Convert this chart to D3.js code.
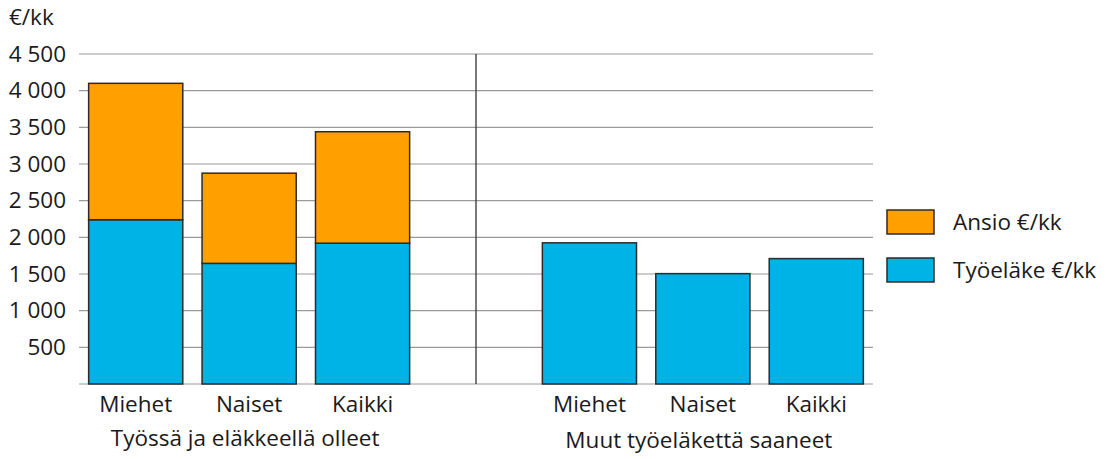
<!DOCTYPE html>
<html>
<head>
<meta charset="utf-8">
<script src="https://cdn.jsdelivr.net/npm/d3@7"></script>
<style>
	body { margin: 0; background: #fff; }
	text { font-family: "Open Sans", "Noto Sans", sans-serif; fill: #1a1a1a; }
</style>
</head>
<body>
<div class="container"></div>
<script>
// data
var slots = ['t-Miehet', 't-Naiset', 't-Kaikki', 'gap', 'm-Miehet', 'm-Naiset', 'm-Kaikki'];
var categories = ['Miehet', 'Naiset', 'Kaikki', '', 'Miehet', 'Naiset', 'Kaikki'];
var tyoelake = [2240, 1645, 1920, null, 1925, 1505, 1710];
var ansio = [1860, 1230, 1520, null, 0, 0, 0];
var groups = ['Työssä ja eläkkeellä olleet', 'Muut työeläkettä saaneet'];
var yTicks = [500, 1000, 1500, 2000, 2500, 3000, 3500, 4000, 4500];
var seriesNames = ['Ansio €/kk', 'Työeläke €/kk'];
var seriesColors = ['#ff9f00', '#00b3e6'];

var width = 1110, height = 459;
var margin = { top: 54, left: 79, right: 237, bottom: 75 };
var fontSize = '22.5px';

var svg = d3.select('.container').append('svg')
	.attr('width', width)
	.attr('height', height);

var xScale = d3.scaleBand()
	.domain(slots)
	.range([margin.left, width - margin.right])
	.paddingInner(0.17)
	.paddingOuter(0.085);

var yScale = d3.scaleLinear()
	.domain([0, 4500])
	.range([height - margin.bottom, margin.top]);

// grid lines
svg.append('g')
	.selectAll('line')
	.data([0].concat(yTicks))
	.enter().append('line')
	.attr('x1', margin.left)
	.attr('x2', width - margin.right)
	.attr('y1', d => yScale(d))
	.attr('y2', d => yScale(d))
	.attr('stroke', '#9a9a9a')
	.attr('stroke-width', 1.2);

// y axis labels
var yAxis = d3.axisLeft(yScale)
	.tickValues(yTicks)
	.tickSize(0)
	.tickPadding(13)
	.tickFormat(d => d3.format(',')(d).replace(',', ' '));

svg.append('g')
	.attr('transform', 'translate(' + margin.left + ',0)')
	.call(yAxis)
	.call(g => g.select('.domain').remove())
	.selectAll('text')
	.style('font-size', fontSize);

svg.append('text')
	.attr('x', 9)
	.attr('y', 25)
	.style('font-size', fontSize)
	.text('€/kk');

// divider
var gapX = xScale('gap') + xScale.bandwidth() / 2;
svg.append('line')
	.attr('x1', gapX).attr('x2', gapX)
	.attr('y1', yScale(4500)).attr('y2', yScale(0))
	.attr('stroke', '#333')
	.attr('stroke-width', 1.3);

// bars
var rows = slots.map((s, i) => ({ slot: s, t: tyoelake[i], a: ansio[i] })).filter(d => d.t !== null);

var bars = svg.append('g');
bars.selectAll('rect.tyo')
	.data(rows)
	.enter().append('rect')
	.attr('class', 'tyo')
	.attr('x', d => xScale(d.slot))
	.attr('width', xScale.bandwidth())
	.attr('y', d => yScale(d.t))
	.attr('height', d => yScale(0) - yScale(d.t))
	.attr('fill', seriesColors[1])
	.attr('stroke', '#2b2b2b')
	.attr('stroke-width', 1.5);

bars.selectAll('rect.ansio')
	.data(rows.filter(d => d.a > 0))
	.enter().append('rect')
	.attr('class', 'ansio')
	.attr('x', d => xScale(d.slot))
	.attr('width', xScale.bandwidth())
	.attr('y', d => yScale(d.t + d.a))
	.attr('height', d => yScale(d.t) - yScale(d.t + d.a))
	.attr('fill', seriesColors[0])
	.attr('stroke', '#2b2b2b')
	.attr('stroke-width', 1.5);

// category labels
svg.append('g')
	.selectAll('text')
	.data(slots.map((s, i) => ({ slot: s, label: categories[i] })))
	.enter().append('text')
	.attr('x', d => xScale(d.slot) + xScale.bandwidth() / 2)
	.attr('y', 412)
	.attr('text-anchor', 'middle')
	.style('font-size', fontSize)
	.text(d => d.label);

// group labels
var groupCenters = [xScale('t-Naiset'), xScale('m-Naiset')];
svg.append('g')
	.selectAll('text')
	.data(groups)
	.enter().append('text')
	.attr('x', (d, i) => groupCenters[i] + xScale.bandwidth() / 2 - 4)
	.attr('y', (d, i) => i === 0 ? 446 : 448)
	.attr('text-anchor', 'middle')
	.style('font-size', fontSize)
	.text(d => d);

// legend
var legend = svg.append('g')
	.selectAll('g')
	.data(seriesNames)
	.enter().append('g')
	.attr('transform', (d, i) => 'translate(887,' + (210 + i * 48) + ')');

legend.append('rect')
	.attr('width', 47)
	.attr('height', 24)
	.attr('fill', (d, i) => seriesColors[i])
	.attr('stroke', '#2b2b2b')
	.attr('stroke-width', 1.5);

legend.append('text')
	.attr('x', 66)
	.attr('y', 20)
	.style('font-size', fontSize)
	.text(d => d);
</script>
</body>
</html>
